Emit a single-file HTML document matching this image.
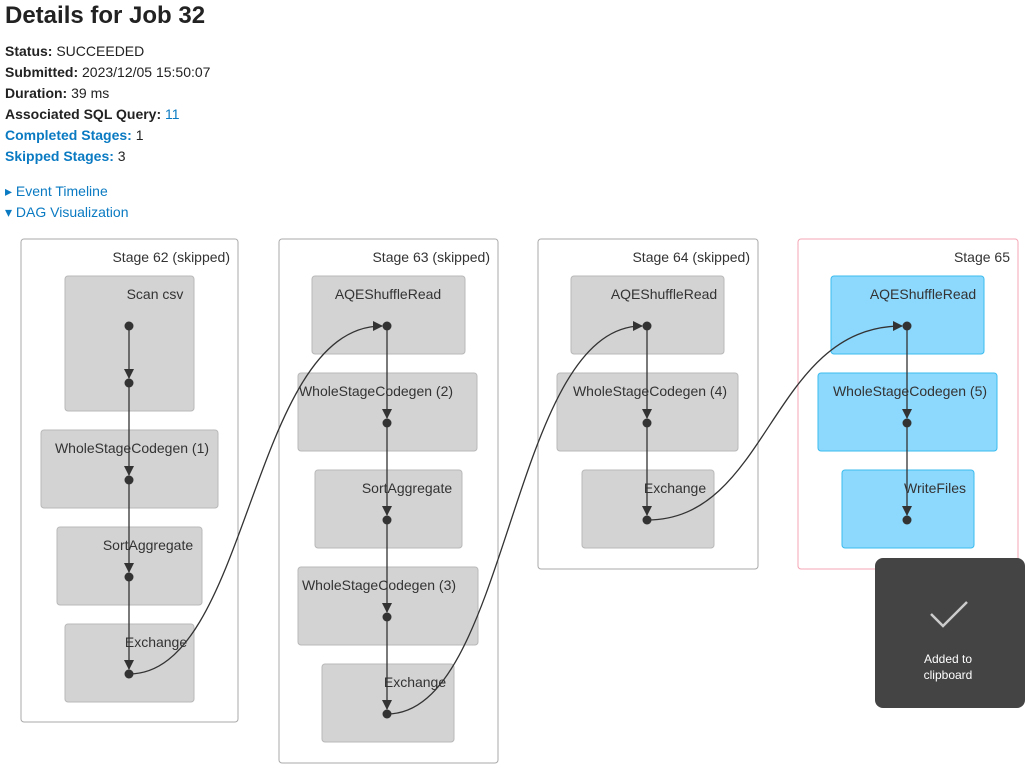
<!DOCTYPE html>
<html><head><meta charset="utf-8"><style>
body{margin:0;background:#fff;font-family:"Liberation Sans",sans-serif;color:#222;width:1030px;height:774px;overflow:hidden;position:relative}
h3{position:absolute;left:5px;top:2px;margin:0;font-size:24px;font-weight:bold;color:#222}
.info{position:absolute;left:5px;top:41px;font-size:14px;line-height:21px}
.b{font-weight:bold}.l{color:#0a7ac2}
svg{position:absolute;left:0;top:0}
</style></head><body>
<h3>Details for Job 32</h3>
<div class="info">
<div><span class="b">Status:</span> SUCCEEDED</div>
<div><span class="b">Submitted:</span> 2023/12/05 15:50:07</div>
<div><span class="b">Duration:</span> 39 ms</div>
<div><span class="b">Associated SQL Query:</span> <span class="l">11</span></div>
<div><span class="b l">Completed Stages:</span> 1</div>
<div><span class="b l">Skipped Stages:</span> 3</div>
<div style="margin-top:14px" class="l">&#9656; Event Timeline</div>
<div class="l">&#9662; DAG Visualization</div>
</div>
<svg width="1030" height="774" font-family="Liberation Sans, sans-serif" font-size="14">
<defs><marker id="a" markerWidth="10" markerHeight="10" refX="9" refY="5" orient="auto" markerUnits="userSpaceOnUse"><path d="M0,0 L10,5 L0,10z" fill="#333"/></marker></defs>
<g fill="#fff" stroke="#aaa">
<rect x="21" y="239" width="217" height="483" rx="3"/>
<rect x="279" y="239" width="219" height="524" rx="3"/>
<rect x="538" y="239" width="220" height="330" rx="3"/>
<rect x="798" y="239" width="220" height="330" rx="3" stroke="#f4a5b5"/>
</g>
<g fill="#333" text-anchor="end">
<text x="230" y="262">Stage 62 (skipped)</text>
<text x="490" y="262">Stage 63 (skipped)</text>
<text x="750" y="262">Stage 64 (skipped)</text>
<text x="1010" y="262">Stage 65</text>
</g>
<g fill="#d3d3d3" stroke="#b8b8b8">
<rect x="65" y="276" width="129" height="135" rx="3"/>
<rect x="41" y="430" width="177" height="78" rx="3"/>
<rect x="57" y="527" width="145" height="78" rx="3"/>
<rect x="65" y="624" width="129" height="78" rx="3"/>
<rect x="312" y="276" width="153" height="78" rx="3"/>
<rect x="298" y="373" width="179" height="78" rx="3"/>
<rect x="315" y="470" width="147" height="78" rx="3"/>
<rect x="298" y="567" width="180" height="78" rx="3"/>
<rect x="322" y="664" width="132" height="78" rx="3"/>
<rect x="571" y="276" width="153" height="78" rx="3"/>
<rect x="557" y="373" width="181" height="78" rx="3"/>
<rect x="582" y="470" width="132" height="78" rx="3"/>
</g>
<g fill="#8dd8fd" stroke="#3bbbee">
<rect x="831" y="276" width="153" height="78" rx="3"/>
<rect x="818" y="373" width="179" height="78" rx="3"/>
<rect x="842" y="470" width="132" height="78" rx="3"/>
</g>
<g fill="#333" text-anchor="middle">
<text x="155" y="299">Scan csv</text>
<text x="132" y="453">WholeStageCodegen (1)</text>
<text x="148" y="550">SortAggregate</text>
<text x="156" y="647">Exchange</text>
<text x="388" y="299">AQEShuffleRead</text>
<text x="376" y="396">WholeStageCodegen (2)</text>
<text x="407" y="493">SortAggregate</text>
<text x="379" y="590">WholeStageCodegen (3)</text>
<text x="415" y="687">Exchange</text>
<text x="664" y="299">AQEShuffleRead</text>
<text x="650" y="396">WholeStageCodegen (4)</text>
<text x="675" y="493">Exchange</text>
<text x="923" y="299">AQEShuffleRead</text>
<text x="910" y="396">WholeStageCodegen (5)</text>
<text x="935" y="493">WriteFiles</text>
</g>
<g stroke="#333" stroke-width="1.3" fill="none" marker-end="url(#a)">
<path d="M129,326 V378"/><path d="M129,383 V475"/><path d="M129,480 V572"/><path d="M129,577 V669"/>
<path d="M387,326 V418"/><path d="M387,423 V515"/><path d="M387,520 V612"/><path d="M387,617 V709"/>
<path d="M647,326 V418"/><path d="M647,423 V515"/>
<path d="M907,326 V418"/><path d="M907,423 V515"/>
<path d="M129,674 C250,674 250,326 382,326"/>
<path d="M387,714 C510,714 510,326 642,326"/>
<path d="M647,520 C770,520 770,326 902,326"/>
</g>
<g fill="#333">
<circle cx="129" cy="326" r="4.5"/><circle cx="129" cy="383" r="4.5"/><circle cx="129" cy="480" r="4.5"/><circle cx="129" cy="577" r="4.5"/><circle cx="129" cy="674" r="4.5"/>
<circle cx="387" cy="326" r="4.5"/><circle cx="387" cy="423" r="4.5"/><circle cx="387" cy="520" r="4.5"/><circle cx="387" cy="617" r="4.5"/><circle cx="387" cy="714" r="4.5"/>
<circle cx="647" cy="326" r="4.5"/><circle cx="647" cy="423" r="4.5"/><circle cx="647" cy="520" r="4.5"/>
<circle cx="907" cy="326" r="4.5"/><circle cx="907" cy="423" r="4.5"/><circle cx="907" cy="520" r="4.5"/>
</g>
<rect x="875" y="558" width="150" height="150" rx="8" fill="#444"/>
<path d="M931,614 L943,626 L967,602" stroke="#ccc" stroke-width="2.5" fill="none"/>
<g fill="#fff" font-size="12" text-anchor="middle"><text x="948" y="663">Added to</text><text x="948" y="679">clipboard</text></g>
</svg>
</body></html>
